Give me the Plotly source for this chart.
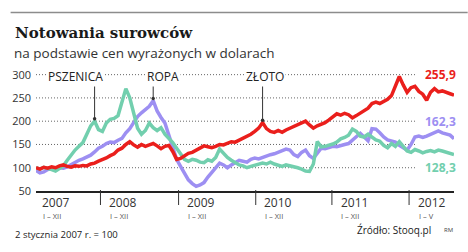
import plotly.graph_objects as go

# ---------------- data (index 0 = 2 Jan 2007, last = May 2012) ----------------
zloto = [100, 97, 101, 99, 102, 100, 104, 106, 103, 101, 104, 103, 105, 104, 108, 110,
         114, 117, 121, 126, 130, 138, 142, 150, 156, 149, 144, 150, 146, 149, 152, 147,
         141, 146, 148, 135, 118, 120, 125, 131, 133, 138, 142, 147, 145, 143, 146, 150,
         149, 152, 156, 155, 159, 163, 167, 172, 178, 185, 197, 184, 178, 176, 180, 176,
         181, 185, 190, 192, 197, 200, 192, 185, 190, 193, 197, 203, 209, 216, 213, 217,
         214, 207, 212, 218, 223, 228, 238, 241, 238, 243, 247, 255, 275, 296, 278, 262,
         272, 275, 264, 258, 245, 262, 270, 263, 265, 261, 259, 255.9]

pszenica = [100, 97, 101, 99, 96, 93, 99, 104, 116, 128, 138, 146, 154, 172, 190, 200,
            182, 178, 196, 204, 206, 212, 238, 270, 250, 215, 185, 172, 180, 196, 186, 180,
            186, 172, 163, 154, 142, 130, 118, 114, 118, 116, 112, 111, 117, 114, 122, 140,
            130, 122, 116, 110, 106, 104, 100, 103, 106, 108, 110, 108, 112, 108, 105, 103,
            106, 104, 103, 100, 97, 93, 92, 108, 156, 145, 146, 148, 151, 155, 162, 165,
            170, 183, 178, 168, 166, 172, 166, 160, 157, 148, 143, 152, 146, 156, 146, 136,
            133, 139, 136, 132, 135, 137, 134, 138, 136, 133, 131, 128.3]

ropa = [94, 89, 91, 96, 98, 97, 100, 99, 102, 107, 112, 116, 119, 123, 127, 134,
        142, 146, 152, 155, 154, 159, 163, 175, 184, 197, 210, 218, 225, 232, 244, 222,
        208, 196, 170, 146, 118, 103, 90, 74, 66, 60, 63, 68, 80, 91, 100, 110,
        106, 100, 106, 112, 116, 114, 112, 118, 121, 119, 122, 126, 128, 130, 134, 137,
        140, 138, 128, 124, 133, 138, 126, 120, 130, 142, 141, 144, 146, 145, 148, 150,
        152, 160, 168, 174, 166, 158, 184, 183, 175, 166, 160, 157, 155, 148, 142, 138,
        150, 166, 168, 165, 168, 172, 176, 179, 175, 173, 170, 162.3]

idx = list(range(len(zloto)))

# year boundaries (index where each year begins) and labels
year_start = [0, 16.5, 36.5, 56.25, 75.75, 95.5]
years = ["2007", "2008", "2009", "2010", "2011", "2012"]
periods = ["I – XII", "I – XII", "I – XII", "I – XII", "I – XII", "I – V"]

yticks = [50, 100, 150, 200, 250, 300]
grid_vals = [100, 150, 200, 250, 300]

end_labels = ["255,9", "162,3", "128,3"]
end_label_y = [300, 200, 100]

# callouts: name, series, index of pointed value, text index
callouts = [("PSZENICA", pszenica, 15, 10.1),
            ("ROPA", ropa, 30, 32.5),
            ("ZŁOTO", zloto, 58, 58.5)]

RED = "#ea1f1c"
GREEN = "#72cfae"
PURPLE = "#9d8ff2"
DARK = "#333333"

# ---------------- geometry helpers (pixels -> paper) ----------------
W, H = 468, 252
PL, PR, PT, PB = 26, 454, 70, 191


def px(x):
    return (x - PL) / (PR - PL)


def py(y):
    return (PB - y) / (PB - PT)


fig = go.Figure()
fig.add_trace(go.Scatter(x=idx, y=ropa, mode="lines", line=dict(color=PURPLE, width=3.5), hoverinfo="skip"))
fig.add_trace(go.Scatter(x=idx, y=pszenica, mode="lines", line=dict(color=GREEN, width=3.5), hoverinfo="skip"))
fig.add_trace(go.Scatter(x=idx, y=zloto, mode="lines", line=dict(color=RED, width=3.5), hoverinfo="skip"))

shapes = []
annotations = []

# gridlines (dotted, ending before the end labels)
for g in grid_vals:
    shapes.append(dict(type="line", xref="x", yref="y", x0=0, x1=97.5, y0=g, y1=g,
                       line=dict(color="#666666", width=1, dash="1px,2px"), layer="below"))

# top rule
shapes.append(dict(type="line", xref="paper", yref="paper", x0=px(0), x1=px(W), y0=py(12.5), y1=py(12.5),
                   line=dict(color="#8c8c8c", width=1.5)))

# year dividers and labels
for i, (s, yr, per) in enumerate(zip(year_start, years, periods)):
    if i > 0:
        shapes.append(dict(type="line", xref="x", yref="paper", x0=s, x1=s, y0=py(190), y1=py(205),
                           line=dict(color=DARK, width=1)))
    lx = s + (1 if i == 0 else 1.7)
    annotations.append(dict(xref="x", yref="paper", x=lx, y=py(202.5), text=yr,
                            showarrow=False, xanchor="left", yanchor="middle",
                            font=dict(family="Open Sans", size=12, color=DARK)))
    annotations.append(dict(xref="x", yref="paper", x=lx + 0.2, y=py(216), text=per,
                            showarrow=False, xanchor="left", yanchor="middle",
                            font=dict(family="Open Sans", size=7.5, color="#555555")))

# end value labels
for t, yv, c in zip(end_labels, end_label_y, [RED, PURPLE, GREEN]):
    annotations.append(dict(xref="x", yref="y", x=99.0, y=yv, text="<b>%s</b>" % t, showarrow=False,
                            xanchor="left", yanchor="middle",
                            font=dict(family="Open Sans", size=12, color=c)))

# callouts
dot_x, dot_y = [], []
for name, ser, i, tx in callouts:
    v = ser[i] + 5
    shapes.append(dict(type="line", xref="x", yref="y", x0=i, x1=i, y0=v, y1=282,
                       line=dict(color=DARK, width=1)))
    dot_x.append(i)
    dot_y.append(v)
    annotations.append(dict(xref="x", yref="y", x=tx, y=295, text=name, showarrow=False,
                            xanchor="center", yanchor="middle", bgcolor="white", borderpad=1,
                            font=dict(family="Open Sans", size=12, color="#222222")))
fig.add_trace(go.Scatter(x=dot_x, y=dot_y, mode="markers", marker=dict(color=DARK, size=3.5), hoverinfo="skip"))

# titles and footnotes
annotations.append(dict(xref="paper", yref="paper", x=px(2), y=py(33), text="<b>Notowania surowców</b>",
                        showarrow=False, xanchor="left", yanchor="middle",
                        font=dict(family="DejaVu Serif", size=15, color="#1a1a1a")))
annotations.append(dict(xref="paper", yref="paper", x=px(1), y=py(53), text="na podstawie cen wyrażonych w dolarach",
                        showarrow=False, xanchor="left", yanchor="middle",
                        font=dict(family="Open Sans", size=13.5, color="#333333")))
annotations.append(dict(xref="paper", yref="paper", x=px(2), y=py(234), text="2 stycznia 2007 r. = 100",
                        showarrow=False, xanchor="left", yanchor="middle",
                        font=dict(family="Open Sans", size=9.5, color="#222222")))
annotations.append(dict(xref="paper", yref="paper", x=px(433), y=py(229.5), text="Źródło: Stooq.pl",
                        showarrow=False, xanchor="right", yanchor="middle",
                        font=dict(family="Open Sans", size=10, color="#222222")))
annotations.append(dict(xref="paper", yref="paper", x=px(455), y=py(230), text="RM",
                        showarrow=False, xanchor="right", yanchor="middle",
                        font=dict(family="Open Sans", size=6, color="#444444")))

fig.update_layout(
    width=W, height=H,
    margin=dict(l=PL, r=W - PR, t=PT, b=H - PB, pad=0),
    paper_bgcolor="white", plot_bgcolor="white",
    showlegend=False,
    shapes=shapes, annotations=annotations,
    xaxis=dict(range=[0, len(zloto) - 1], showgrid=False, zeroline=False, showticklabels=False,
               showline=True, linecolor="#222222", linewidth=2, ticks=""),
    yaxis=dict(range=[50, 310], showgrid=False, zeroline=False, tickvals=yticks,
               tickfont=dict(family="Open Sans", size=11, color=DARK), ticks="",
               ticklabelstandoff=4, showline=False),
)

fig.write_html("out.html")
